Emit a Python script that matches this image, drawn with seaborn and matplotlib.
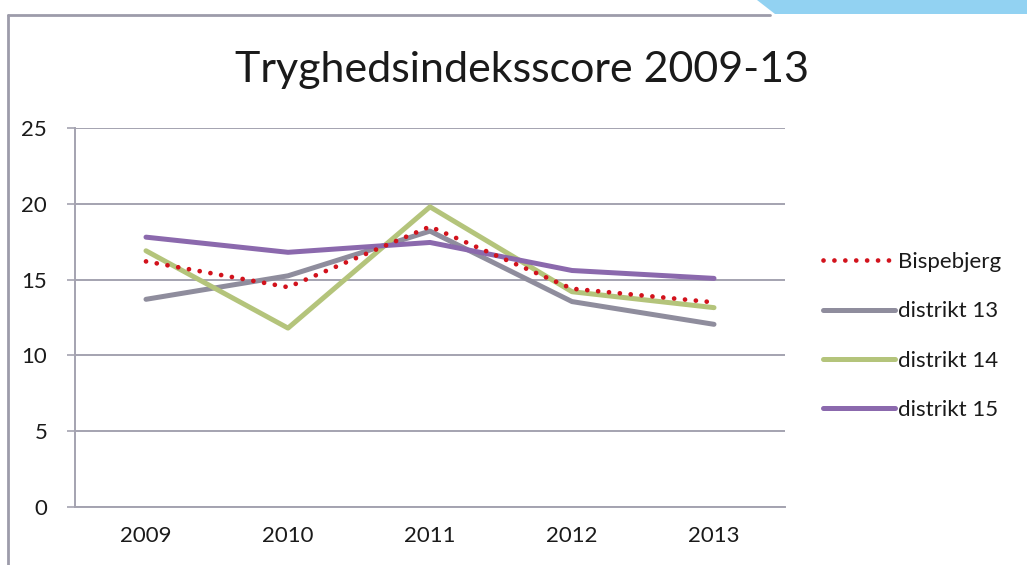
import numpy as np
import pandas as pd
import matplotlib
matplotlib.use("Agg")
import matplotlib.pyplot as plt
from matplotlib.patches import Polygon
from matplotlib.lines import Line2D
import seaborn as sns

# data
years = ["2009", "2010", "2011", "2012", "2013"]
bispebjerg = [16.2, 14.5, 18.5, 14.4, 13.5]
distrikt_13 = [13.7, 15.25, 18.2, 13.55, 12.05]
distrikt_14 = [16.9, 11.8, 19.8, 14.2, 13.15]
distrikt_15 = [17.8, 16.8, 17.45, 15.6, 15.08]
series_names = ["Bispebjerg", "distrikt 13", "distrikt 14", "distrikt 15"]
colors = ["#d2121c", "#8f8d9d", "#b4c47b", "#8b69ad"]

df = pd.DataFrame({"year": years * 4,
                   "score": bispebjerg + distrikt_13 + distrikt_14 + distrikt_15,
                   "serie": np.repeat(series_names, len(years))})
df["x"] = df["year"].map({y: i for i, y in enumerate(years)})

sns.set_style("white")
plt.rcParams['font.family'] = ['Lato', 'DejaVu Sans']

fig = plt.figure(figsize=(10.27, 5.65), dpi=100)
ax = fig.add_axes([75 / 1027, 1 - 507 / 565, 710 / 1027, 379 / 565])

grid_col = "#a4a3b0"
for i, name in enumerate(series_names):
    sub = df[df["serie"] == name]
    if name == "Bispebjerg":
        sns.lineplot(data=sub, x="x", y="score", ax=ax, color=colors[i], lw=3.4,
                     label=name, zorder=5)
    else:
        sns.lineplot(data=sub, x="x", y="score", ax=ax, color=colors[i], lw=3.6,
                     label=name, solid_capstyle="round", zorder=3)

# make the Bispebjerg line a row of round dots
red = ax.get_lines()[0]
red.set_dashes((0.01, 2.3))
red.set_dash_capstyle("round")

ax.set_xlim(-0.5, 4.5)
ax.set_ylim(0, 25)
ax.set_yticks([0, 5, 10, 15, 20, 25])
ax.set_xticks(range(len(years)))
ax.set_xticklabels(years)
ax.set_xticks(np.arange(-0.5, 5, 1), minor=True)
ax.tick_params(axis="x", which="major", length=0, pad=14, labelsize=16, colors="#1a1a1a")
ax.tick_params(axis="x", which="minor", length=7, width=1.2, color=grid_col, direction="out")
ax.tick_params(axis="y", length=6, width=1.2, color=grid_col, pad=14, labelsize=16,
               labelcolor="#1a1a1a", direction="out", left=True)
ax.grid(axis="y", color=grid_col, lw=1.4)
ax.set_axisbelow(True)
for s in ["top", "right"]:
    ax.spines[s].set_visible(False)
for s in ["left", "bottom"]:
    ax.spines[s].set_color(grid_col)
    ax.spines[s].set_linewidth(1.4)
ax.set_xlabel("")
ax.set_ylabel("")

handles = []
for i, name in enumerate(series_names):
    if name == "Bispebjerg":
        h = Line2D([], [], color=colors[i], lw=3.4, dashes=(0.01, 2.3), dash_capstyle="round")
    else:
        h = Line2D([], [], color=colors[i], lw=3.6, solid_capstyle="round")
    handles.append(h)
leg = ax.legend(handles, series_names, loc="center left",
                bbox_to_anchor=(823 / 1027, 1 - 336 / 565), bbox_transform=fig.transFigure,
                frameon=False, fontsize=16, handlelength=3.25, handletextpad=0.12,
                labelspacing=1.32, borderpad=0, borderaxespad=0)
for t in leg.get_texts():
    t.set_color("#1a1a1a")

fig.text(0.508, 1 - 70 / 565, "Tryghedsindeksscore 2009-13", ha="center", va="center",
         fontsize=31, color="#1a1a1a")

# slide frame and corner shape
frame_col = "#9d9caa"
fig.add_artist(Line2D([8 / 1027, 8 / 1027], [0, 1 - 15 / 565], transform=fig.transFigure,
                      color=frame_col, lw=2))
fig.add_artist(Line2D([8 / 1027, 770 / 1027], [1 - 15 / 565, 1 - 15 / 565],
                      transform=fig.transFigure, color=frame_col, lw=2))
fig.patches.append(Polygon([(757 / 1027, 1), (1, 1), (1, 1 - 14 / 565),
                            (775 / 1027, 1 - 14 / 565)], closed=True,
                           transform=fig.transFigure, facecolor="#92d2f2",
                           edgecolor="none"))

fig.savefig("out.png", dpi=100)
